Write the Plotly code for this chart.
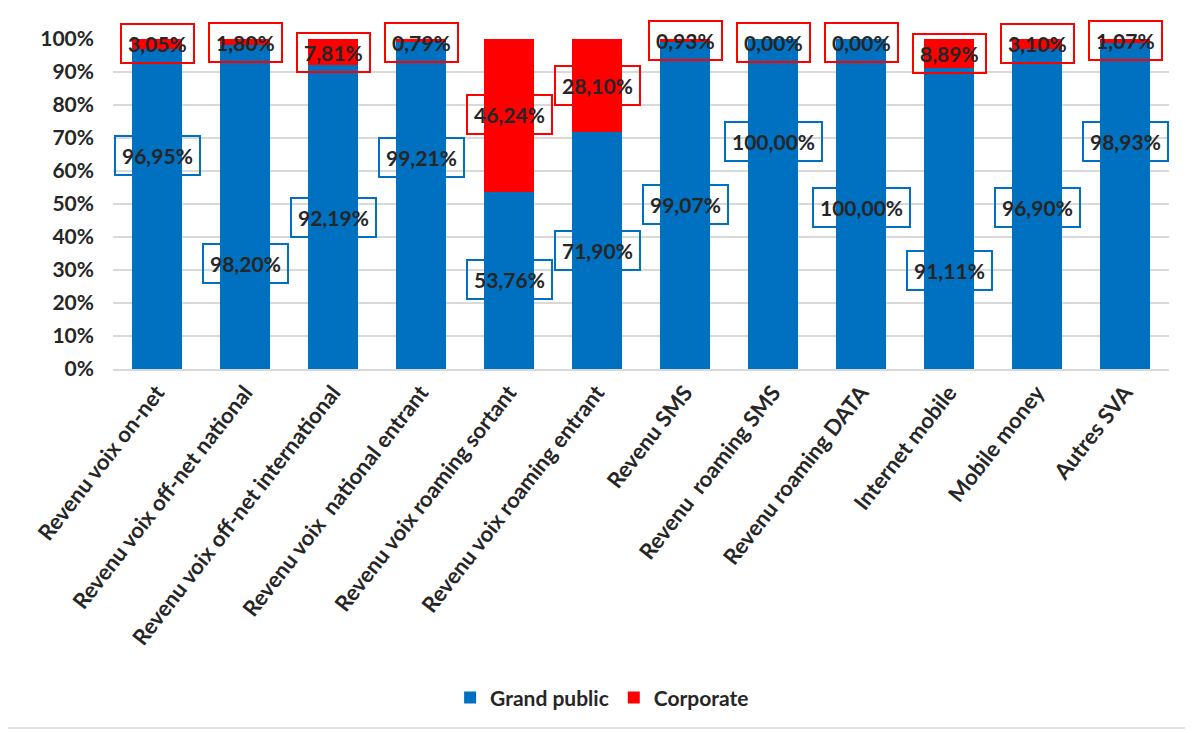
import plotly.graph_objects as go

categories = [
    "Revenu voix on-net",
    "Revenu voix off-net national",
    "Revenu voix off-net international",
    "Revenu voix  national entrant",
    "Revenu voix roaming sortant",
    "Revenu voix roaming entrant",
    "Revenu SMS",
    "Revenu  roaming SMS",
    "Revenu roaming DATA",
    "Internet mobile",
    "Mobile money",
    "Autres SVA",
]
grand_public = [96.95, 98.20, 92.19, 99.21, 53.76, 71.90, 99.07, 100.00, 100.00, 91.11, 96.90, 98.93]
corporate = [3.05, 1.80, 7.81, 0.79, 46.24, 28.10, 0.93, 0.00, 0.00, 8.89, 3.10, 1.07]

# where the boxed labels sit (in % of the axis), as placed in the original
label_y_gp = [64.8, 32, 46, 64, 27, 36, 50, 69, 49, 30, 49, 69]
label_y_corp = [98.5, 99, 96, 99, 77, 86, 99.4, 99, 99, 95.5, 98.5, 99.4]

BLUE = "#0070C0"
RED = "#FF0000"
TEXT = "#262626"
FONT = "Lato"


def fmt(v):
    return f"{v:.2f}".replace(".", ",") + "%"


fig = go.Figure()
fig.add_trace(go.Bar(x=categories, y=grand_public, name="Grand public",
                     marker=dict(color=BLUE, line=dict(width=0))))
fig.add_trace(go.Bar(x=categories, y=corporate, name="Corporate",
                     marker=dict(color=RED, line=dict(width=0))))

annotations = []
for cat, gp, co, ygp, yco in zip(categories, grand_public, corporate, label_y_gp, label_y_corp):
    annotations.append(dict(x=cat, y=ygp, text=fmt(gp), showarrow=False,
                            font=dict(family=FONT, size=21, color=TEXT, weight="bold"),
                            bordercolor=BLUE, borderwidth=2, borderpad=6))
    annotations.append(dict(x=cat, y=yco, text=fmt(co), showarrow=False,
                            font=dict(family=FONT, size=21, color=TEXT, weight="bold"),
                            bordercolor=RED, borderwidth=2, borderpad=6))

# page body adds 8px, so margins are shifted by that amount
fig.update_layout(
    barmode="stack",
    bargap=0.43,
    width=1193,
    height=733,
    margin=dict(l=105, r=32, t=31, b=372),
    plot_bgcolor="white",
    paper_bgcolor="white",
    font=dict(family=FONT, color=TEXT),
    annotations=annotations,
    legend=dict(orientation="h", xref="container", yref="container",
                x=0.498, y=0.059, xanchor="center", yanchor="middle",
                font=dict(family=FONT, size=21, color=TEXT, weight="bold"),
                itemwidth=30, traceorder="normal"),
    xaxis=dict(tickangle=-52, tickfont=dict(family=FONT, size=22, color=TEXT, weight="bold"),
               showgrid=False, showline=True, linecolor="#D9D9D9", linewidth=2,
               ticks=""),
    yaxis=dict(range=[0, 100], dtick=10, ticksuffix="%",
               tickfont=dict(family=FONT, size=21, color=TEXT, weight="bold"),
               showgrid=True, gridcolor="#D9D9D9", gridwidth=1.5,
               zeroline=False, ticklabelstandoff=18),
    shapes=[dict(type="rect", xref="paper", yref="paper",
                 x0=-0.1013, x1=1.0218, y0=-1.088, y1=1.097,
                 line=dict(color="#D9D9D9", width=1.5), layer="below")],
)

fig.write_html("out.html")
